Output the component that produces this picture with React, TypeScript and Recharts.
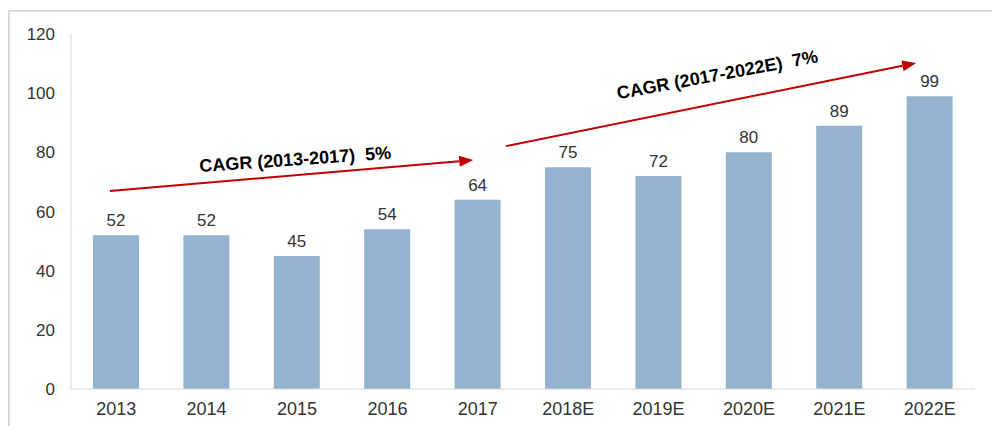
import React from "react";
import { BarChart, Bar, XAxis, YAxis, LabelList, ReferenceLine, ReferenceDot } from "recharts";

const years = ["2013", "2014", "2015", "2016", "2017", "2018E", "2019E", "2020E", "2021E", "2022E"];
const values = [52, 52, 45, 54, 64, 75, 72, 80, 89, 99];
const yTicks = [0, 20, 40, 60, 80, 100, 120];

// CAGR arrows, in (category index, value) space; integer index = category centre
const arrowStartX = [-0.07, 4.31];
const arrowStartY = [66.9, 82.1];
const arrowEndX = [3.95, 8.85];
const arrowEndY = [77.4, 110.2];
const cagrTexts = ["CAGR (2013-2017)  5%", "CAGR (2017-2022E)  7%"];
const cagrTextX = [1.98, 6.65];
const cagrTextY = [77.6, 106.2];
const cagrTextAngle = [-4, -10.5];

const data = years.map((y, i) => ({ year: y, value: values[i], idx: i }));

const RED = "#c00000";
const TEXT = "#333333";
const FONT = "'Liberation Sans', Arial, sans-serif";

const ArrowShape = (props: any) => {
  const { x1, y1, x2, y2 } = props;
  if ([x1, y1, x2, y2].some((v) => typeof v !== "number" || isNaN(v))) return null;
  const ang = Math.atan2(y2 - y1, x2 - x1);
  const len = 14;
  const hw = 5.5;
  const bx = x2 - len * Math.cos(ang);
  const by = y2 - len * Math.sin(ang);
  const px = -Math.sin(ang);
  const py = Math.cos(ang);
  const pts = `${x2},${y2} ${bx + px * hw},${by + py * hw} ${bx - px * hw},${by - py * hw}`;
  return (
    <g>
      <line x1={x1} y1={y1} x2={bx} y2={by} stroke={RED} strokeWidth={2} />
      <polygon points={pts} fill={RED} />
    </g>
  );
};

const makeTextShape = (text: string, angle: number) => (props: any) => {
  const { cx, cy } = props;
  if (typeof cx !== "number" || typeof cy !== "number") return null;
  return (
    <text
      x={cx}
      y={cy}
      textAnchor="middle"
      dominantBaseline="central"
      transform={`rotate(${angle} ${cx} ${cy})`}
      fontFamily={FONT}
      fontSize={18}
      fontWeight="bold"
      fill="#000"
      style={{ whiteSpace: "pre" }}
    >
      {text}
    </text>
  );
};

export default function App() {
  return (
    <div style={{ position: "absolute", left: 0, top: 0, width: 992, height: 426, background: "#fff" }}>
      <div
        style={{
          position: "absolute",
          left: 8,
          top: 10,
          width: 984,
          height: 416,
          borderTop: "2px solid #d9d9d9",
          borderLeft: "2px solid #d9d9d9",
          boxSizing: "border-box",
        }}
      />
      <div style={{ position: "absolute", left: 0, top: 0 }}>
        <BarChart
          width={992}
          height={426}
          data={data}
          margin={{ top: 34, right: 17, bottom: 7, left: 0 }}
        >
          <XAxis
            dataKey="year"
            axisLine={{ stroke: "#d9d9d9", strokeWidth: 1 }}
            tickLine={false}
            tickMargin={7}
            height={30}
            tick={{ fill: TEXT, fontSize: 18, fontFamily: FONT }}
            interval={0}
          />
          <XAxis
            xAxisId="num"
            dataKey="idx"
            type="number"
            domain={[-0.5, 9.5]}
            allowDataOverflow
            hide
          />
          <YAxis
            domain={[0, 120]}
            ticks={yTicks}
            width={71}
            axisLine={{ stroke: "#d9d9d9", strokeWidth: 1 }}
            tickLine={false}
            tickMargin={10}
            tick={{ fill: TEXT, fontSize: 17, fontFamily: FONT }}
            interval={0}
          />
          <Bar dataKey="value" fill="#95b3cf" barSize={46} isAnimationActive={false}>
            <LabelList
              dataKey="value"
              position="top"
              offset={9}
              fill={TEXT}
              fontSize={17}
              fontFamily={FONT}
            />
          </Bar>
          {arrowStartX.map((_, i) => (
            <ReferenceLine
              key={`arr${i}`}
              xAxisId="num"
              segment={[
                { x: arrowStartX[i], y: arrowStartY[i] },
                { x: arrowEndX[i], y: arrowEndY[i] },
              ]}
              stroke={RED}
              shape={ArrowShape}
              ifOverflow="visible"
            />
          ))}
          {cagrTexts.map((t, i) => (
            <ReferenceDot
              key={`txt${i}`}
              xAxisId="num"
              x={cagrTextX[i]}
              y={cagrTextY[i]}
              r={0}
              shape={makeTextShape(t, cagrTextAngle[i])}
              ifOverflow="visible"
            />
          ))}
        </BarChart>
      </div>
    </div>
  );
}
